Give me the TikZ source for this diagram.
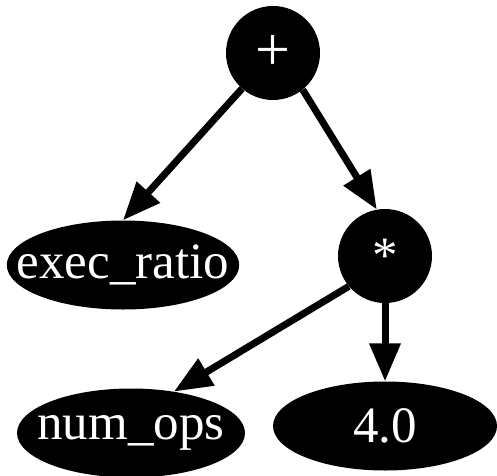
\documentclass[tikz,border=0pt]{standalone}
\usepackage{fontspec}
\setmainfont{Liberation Serif}
\usetikzlibrary{arrows.meta,shapes.geometric}
\tikzset{
  opnode/.style={circle,fill=black,text=white,inner sep=0pt,minimum size=94pt},
  leafnode/.style={ellipse,fill=black,text=white,inner ysep=0pt,minimum height=89pt},
  edge/.style={line width=7pt,-{Triangle[length=38pt,width=30pt]}}
}
\begin{document}
\begin{tikzpicture}[x=1pt,y=1pt,font=\fontsize{51}{60}\selectfont]
   \useasboundingbox (0,0) rectangle (497,475);
   \node[opnode,font=\fontsize{62}{70}\selectfont] (plus) at (273,422) {+};
   \node[opnode] (star) at (385,219) {*};
   \node[leafnode,minimum width=227pt,inner xsep=-24pt] (exec) at (123,210) {exec\_ratio};
   \node[leafnode,minimum width=228pt,inner xsep=-13pt] (num) at (131,42) {num\_ops};
   \node[leafnode,minimum width=224pt,inner xsep=0pt] (four) at (385,49) {4.0};

   \draw[edge] (plus.229) -- (exec.north);
   \draw[edge] (plus.309) -- (star.100);
   \draw[edge] (star.220) -- (num.44);
   \draw[edge] (star.south) -- (four.north);
\end{tikzpicture}
\end{document}
